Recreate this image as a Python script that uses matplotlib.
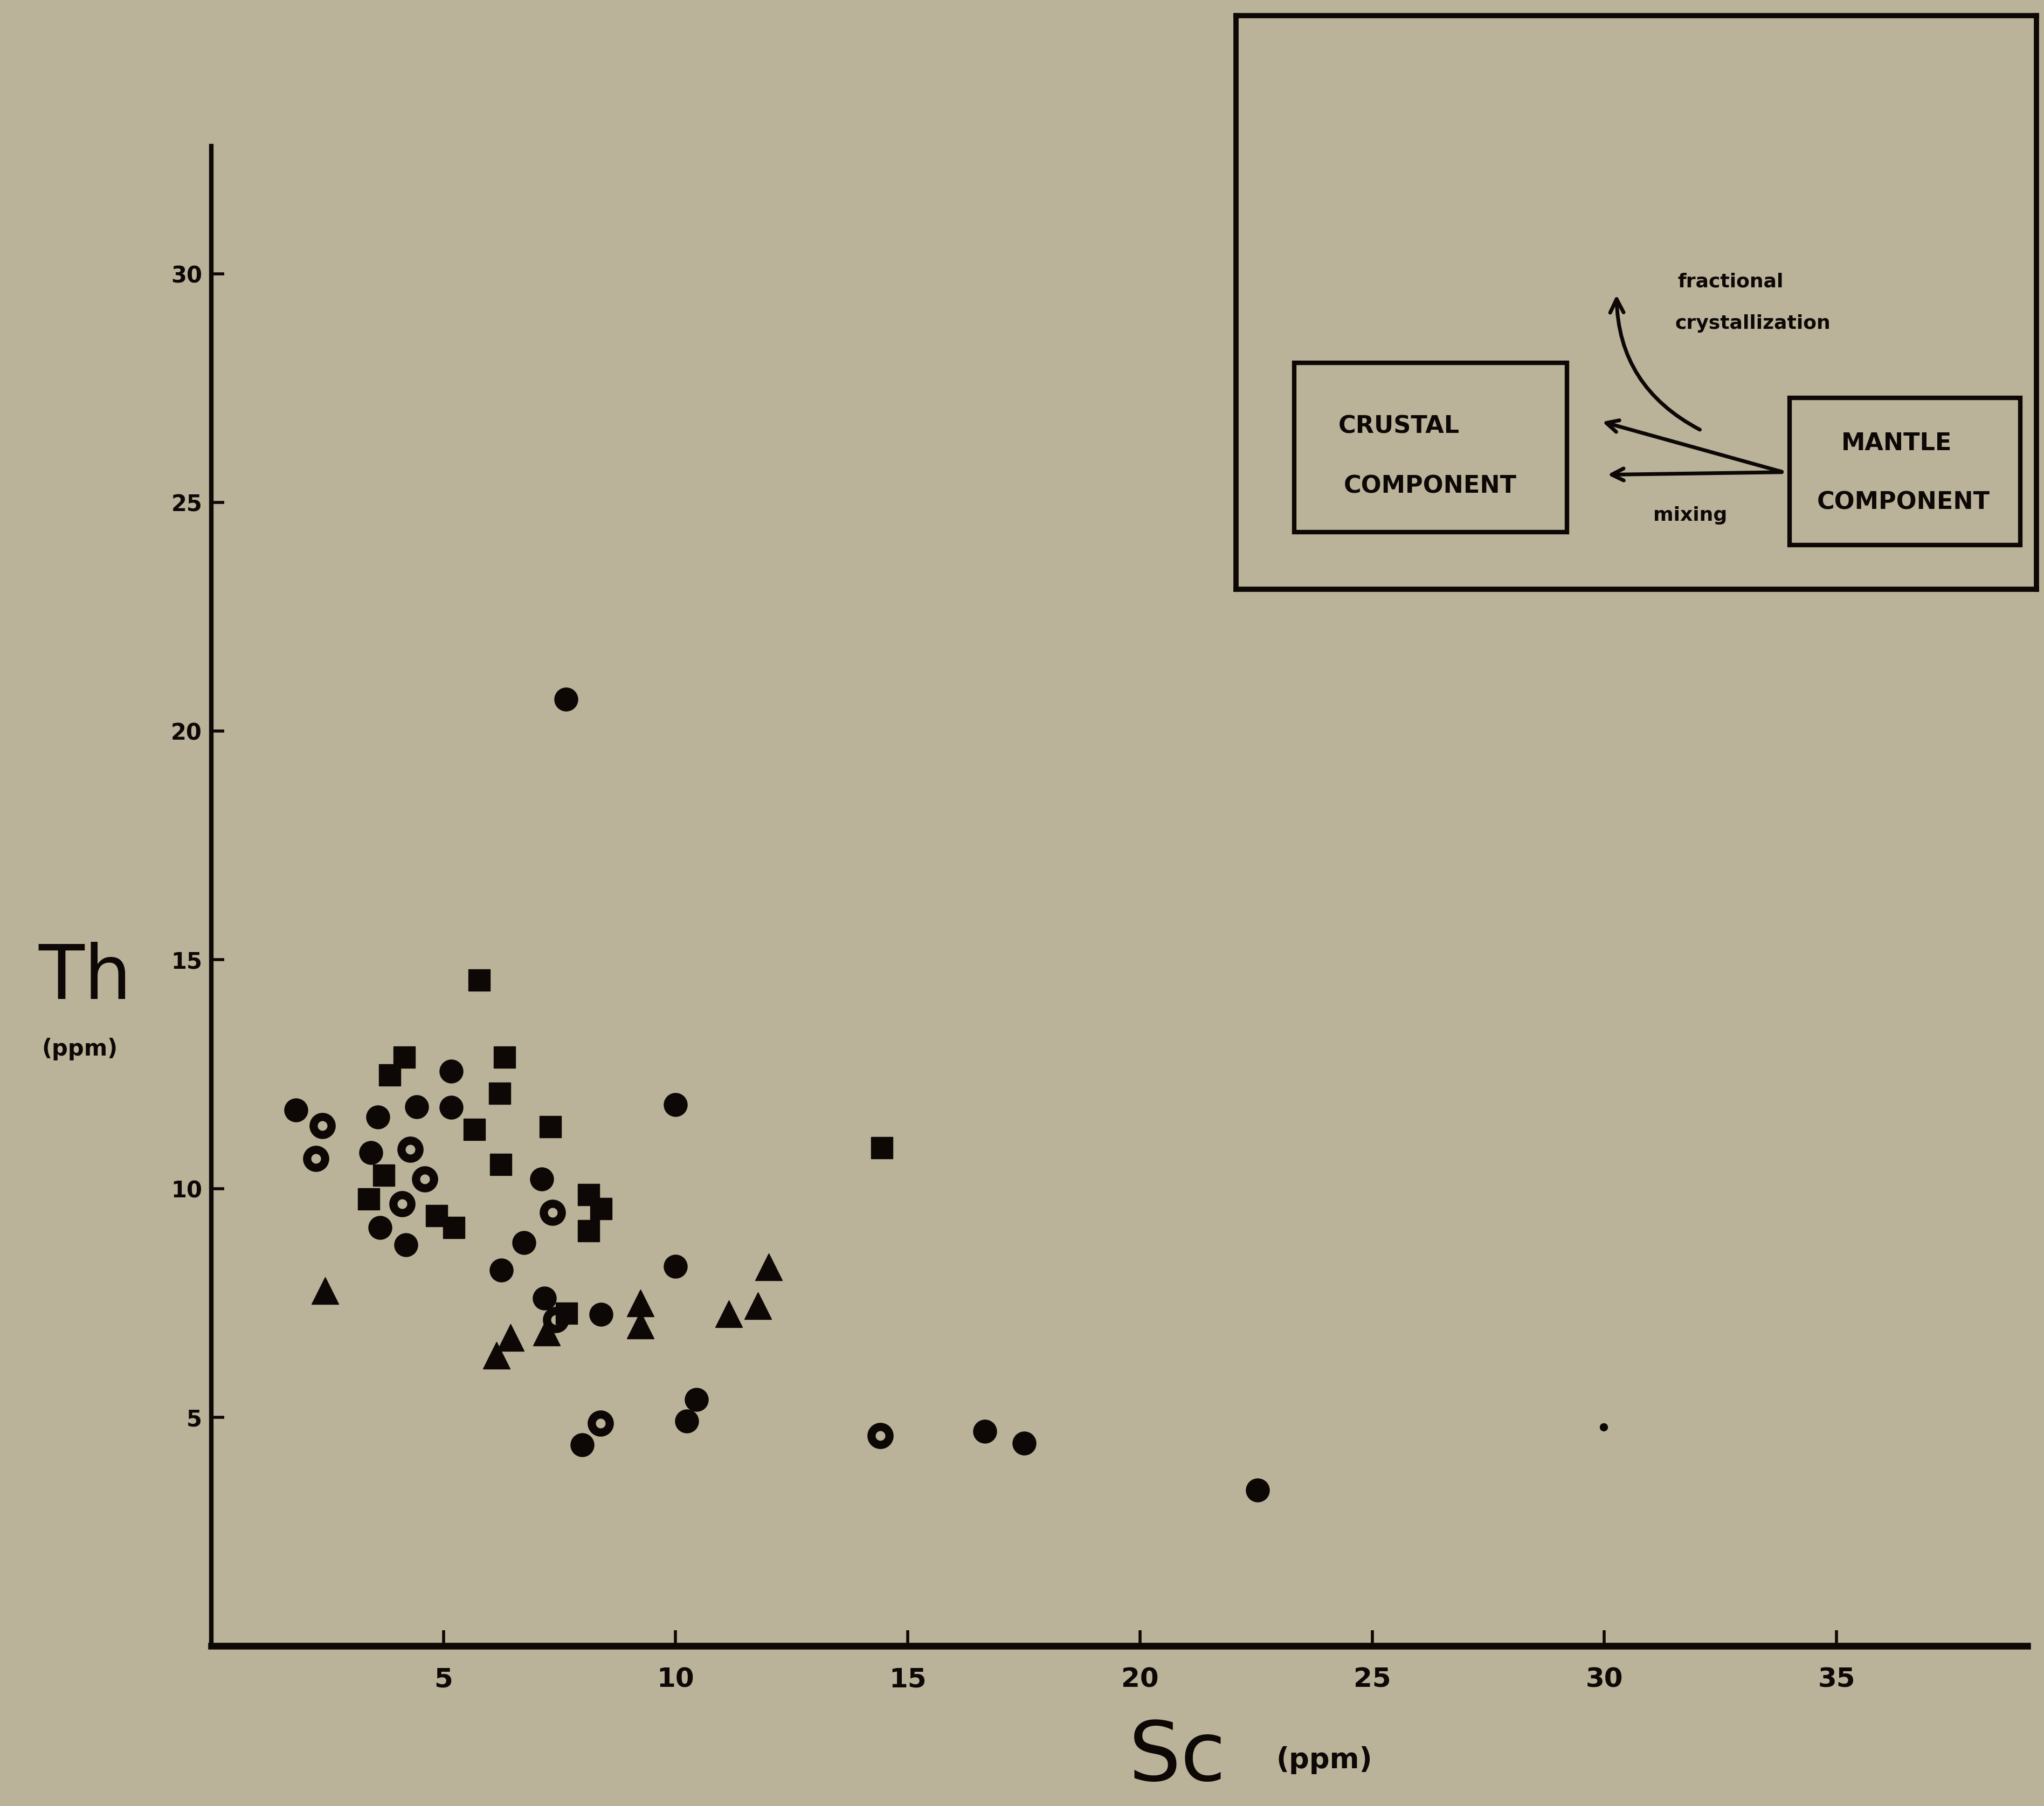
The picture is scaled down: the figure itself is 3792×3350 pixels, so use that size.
"""
Th vs Sc scatter with the crustal / mantle mixing sketch in the corner.
"""

import matplotlib.pyplot as plt
from matplotlib.patches import Rectangle, FancyArrowPatch

# Sc (ppm), Th (ppm)
filled_sc = [7.64, 1.83, 3.59, 4.42, 5.17, 5.17, 3.44, 7.12, 3.64, 4.19, 6.73,
             6.25, 10.0, 10.0, 7.18, 8.40, 7.99, 10.45, 10.24, 16.66, 17.51, 22.53]
filled_th = [20.7, 11.72, 11.56, 11.79, 12.57, 11.77, 10.79, 10.21, 9.14, 8.77, 8.82,
             8.21, 11.83, 8.30, 7.60, 7.25, 4.39, 5.38, 4.91, 4.69, 4.43, 3.40]

open_sc = [2.40, 2.26, 4.29, 4.60, 4.11, 7.35, 7.42, 8.38, 14.41]
open_th = [11.37, 10.65, 10.85, 10.21, 9.66, 9.48, 7.13, 4.87, 4.59]

square_sc = [5.77, 4.16, 3.85, 6.32, 6.21, 5.67, 7.30, 6.24, 3.72, 3.39,
             8.13, 8.39, 8.13, 4.86, 5.23, 7.65, 14.44]
square_th = [14.56, 12.87, 12.48, 12.87, 12.08, 11.29, 11.35, 10.53, 10.29, 9.77,
             9.87, 9.56, 9.08, 9.40, 9.14, 7.27, 10.89]

triangle_sc = [2.45, 6.45, 6.14, 7.22, 9.24, 9.24, 11.14, 11.77, 12.0]
triangle_th = [7.77, 6.74, 6.35, 6.86, 7.49, 7.01, 7.26, 7.44, 8.28]

small_sc = [29.98]
small_th = [4.78]

x_ticks = [5, 10, 15, 20, 25, 30, 35]
y_ticks = [5, 10, 15, 20, 25, 30]

paper = "#bab39a"
ink = "#0d0806"


def main():
    fig = plt.figure(figsize=(37.92, 33.5), dpi=100, facecolor=paper)
    ax = fig.add_axes([0.1033, 0.0888, 0.8884, 0.8303], facecolor=paper)

    ax.plot(filled_sc, filled_th, ls="none", marker="o", ms=31, color=ink)
    ax.plot(open_sc, open_th, ls="none", marker="o", ms=24, mfc="none",
            mec=ink, mew=11)
    ax.plot(square_sc, square_th, ls="none", marker="s", ms=29, color=ink)
    ax.plot(triangle_sc, triangle_th, ls="none", marker="^", ms=36, color=ink)
    ax.plot(small_sc, small_th, ls="none", marker="o", ms=10, color=ink)

    ax.set_xlim(0, 39.1)
    ax.set_ylim(0, 32.8)
    for side in ("top", "right"):
        ax.spines[side].set_visible(False)
    ax.spines["left"].set_linewidth(6)
    ax.spines["bottom"].set_linewidth(9)
    ax.spines["left"].set_color(ink)
    ax.spines["bottom"].set_color(ink)

    ax.set_xticks(x_ticks)
    ax.set_yticks(y_ticks)
    ax.tick_params(axis="x", direction="in", length=21, width=4, color=ink,
                   pad=28, labelsize=36, labelcolor=ink)
    ax.tick_params(axis="y", direction="in", length=17, width=4, color=ink,
                   pad=12, labelsize=30, labelcolor=ink)
    for lab in ax.get_xticklabels() + ax.get_yticklabels():
        lab.set_fontweight("bold")

    # axis titles, placed like the hand lettering
    fig.text(0.0415, 0.4585, "Th", fontsize=100, ha="center", va="center",
             color=ink)
    fig.text(0.039, 0.419, "(ppm)", fontsize=30, fontweight="bold",
             ha="center", va="center", color=ink)
    fig.text(0.5759, 0.0267, "Sc", fontsize=110, ha="center", va="center",
             color=ink)
    fig.text(0.648, 0.0253, "(ppm)", fontsize=38, fontweight="bold",
             ha="center", va="center", color=ink)

    # inset sketch
    ins = fig.add_axes([0.6046, 0.6736, 0.3916, 0.3177], facecolor=paper)
    ins.set_xlim(0, 1)
    ins.set_ylim(0, 1)
    ins.set_xticks([])
    ins.set_yticks([])
    for sp in ins.spines.values():
        sp.set_linewidth(7)
        sp.set_color(ink)

    ins.add_patch(Rectangle((0.0733, 0.10), 0.3404, 0.2955, fill=False,
                            lw=6, ec=ink))
    ins.add_patch(Rectangle((0.692, 0.0773), 0.288, 0.2567, fill=False,
                            lw=6, ec=ink))
    box_font = dict(fontsize=32, fontweight="bold", ha="center", va="center",
                    color=ink)
    ins.text(0.2036, 0.284, "CRUSTAL", **box_font)
    ins.text(0.2427, 0.1795, "COMPONENT", **box_font)
    ins.text(0.8257, 0.2545, "MANTLE", **box_font)
    ins.text(0.834, 0.152, "COMPONENT", **box_font)
    ins.text(0.568, 0.1295, "mixing", fontsize=26, fontweight="bold",
             ha="center", va="center", color=ink)
    ins.text(0.552, 0.5364, "fractional", fontsize=26, fontweight="bold",
             ha="left", va="center", color=ink)
    ins.text(0.549, 0.4636, "crystallization", fontsize=26, fontweight="bold",
             ha="left", va="center", color=ink)

    for end in [(0.456, 0.293), (0.4625, 0.200)]:
        ins.add_patch(FancyArrowPatch((0.684, 0.2045), end, arrowstyle="->",
                                      mutation_scale=40, lw=5, color=ink))
    ins.add_patch(FancyArrowPatch((0.5814, 0.2773), (0.4756, 0.516),
                                  connectionstyle="arc3,rad=-0.3",
                                  arrowstyle="->", mutation_scale=45, lw=5,
                                  color=ink))

    fig.savefig("out.png", dpi=100, facecolor=paper)


if __name__ == "__main__":
    main()
